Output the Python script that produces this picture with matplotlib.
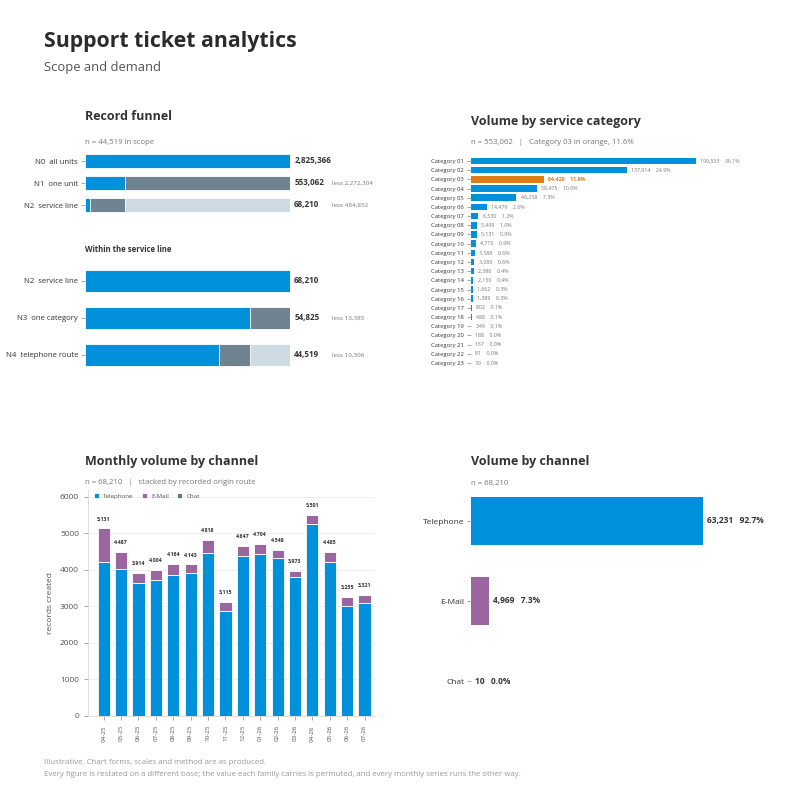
import matplotlib
matplotlib.use("Agg")
import matplotlib.pyplot as plt
import numpy as np

plt.rcParams['font.family'] = ['Open Sans', 'DejaVu Sans']

BLUE = '#0091da'
SLATE = '#6f8490'
LIGHT = '#cfdbe2'
ORANGE = '#e07b1a'
PURPLE = '#9b66a0'
GREEN = '#5d806a'
DARK = '#333333'
GREY = '#777777'

# --- data ---
funnel_top_labels = ['N0  all units', 'N1  one unit', 'N2  service line']
funnel_top_values = [2825366, 553062, 68210]
funnel_bot_labels = ['N2  service line', 'N3  one category', 'N4  telephone route']
funnel_bot_values = [68210, 54825, 44519]

categories = ['Category %02d' % i for i in range(1, 24)]
cat_values = [199553, 137914, 64420, 58475, 40258, 14479, 6530, 5499, 5131, 4715,
              3588, 3089, 2386, 2150, 1662, 1389, 802, 488, 349, 188, 167, 81, 39]
cat_pct = ['36.1%', '24.9%', '11.6%', '10.6%', '7.3%', '2.6%', '1.2%', '1.0%', '0.9%',
           '0.9%', '0.6%', '0.6%', '0.4%', '0.4%', '0.3%', '0.3%', '0.1%', '0.1%',
           '0.1%', '0.0%', '0.0%', '0.0%', '0.0%']
highlight = 'Category 03'

months = ['04-25', '05-25', '06-25', '07-25', '08-25', '09-25', '10-25', '11-25',
          '12-25', '01-26', '02-26', '03-26', '04-26', '05-26', '06-26', '07-26']
month_total = [5131, 4487, 3914, 4004, 4164, 4143, 4818, 3115, 4647, 4704, 4548,
               3973, 5501, 4485, 3255, 3321]
month_phone = [4215, 4025, 3640, 3712, 3868, 3912, 4460, 2880, 4388, 4432, 4322,
               3795, 5260, 4212, 3014, 3096]
month_chat = [1, 0, 1, 0, 1, 0, 1, 1, 0, 1, 0, 1, 0, 1, 1, 1]
month_mail = [t - p - c for t, p, c in zip(month_total, month_phone, month_chat)]

channels = ['Telephone', 'E-Mail', 'Chat']
channel_values = [63231, 4969, 10]
channel_pct = ['92.7%', '7.3%', '0.0%']
channel_colors = [BLUE, PURPLE, GREEN]

fig = plt.figure(figsize=(8, 8), dpi=100)


def px_axes(x0, y0, x1, y1):
    return fig.add_axes([x0 / 800, 1 - y1 / 800, (x1 - x0) / 800, (y1 - y0) / 800])


def clean(ax):
    for s in ax.spines.values():
        s.set_visible(False)
    ax.tick_params(axis='y', length=3, width=0.6, color='#999999', pad=2, labelcolor=DARK)
    ax.set_xticks([])


def txt(x, y, s, **kw):
    fig.text(x / 800, 1 - y / 800, s, **kw)


# header
txt(44, 42, 'Support ticket analytics', fontsize=15.3, fontweight='bold', color='#2b2b2b', va='center')
txt(44, 68, 'Scope and demand', fontsize=9.4, color='#555555', va='center')

# --- funnel ---
txt(85, 117, 'Record funnel', fontsize=9, fontweight='bold', color=DARK, va='center')
txt(85, 143, 'n = 44,519 in scope', fontsize=5.6, color=GREY, va='center')


def funnel(ax, labels, values, height):
    base = values[0]
    y = np.arange(len(values))
    for i, v in enumerate(values):
        prev = values[i - 1] if i > 0 else base
        ax.barh(i, base, height=height, color=LIGHT, edgecolor='white', linewidth=0.6)
        ax.barh(i, prev, height=height, color=SLATE, edgecolor='white', linewidth=0.6)
        ax.barh(i, v, height=height, color=BLUE, edgecolor='white', linewidth=0.6)
        ax.annotate(f'{v:,}', (base, i), xytext=(3, 0), textcoords='offset points',
                    va='center', fontsize=5.8, fontweight='bold', color=DARK)
        if i > 0:
            ax.annotate(f'less {prev - v:,}', (base, i), xytext=(30, 0),
                        textcoords='offset points', va='center', fontsize=4.5, color=GREY)
    ax.set_yticks(y, labels, fontsize=5.6)
    ax.set_xlim(0, base)
    ax.set_ylim(len(values) - 0.5, -0.5)
    clean(ax)


ax1 = px_axes(85, 150, 290, 216)
funnel(ax1, funnel_top_labels, funnel_top_values, 0.64)

txt(85, 250, 'Within the service line', fontsize=5.6, fontweight='bold', color=DARK, va='center')
ax2 = px_axes(85, 262.5, 290, 373.5)
funnel(ax2, funnel_bot_labels, funnel_bot_values, 0.6)

# --- category ---
txt(471, 122, 'Volume by service category', fontsize=9, fontweight='bold', color=DARK, va='center')
txt(471, 143, 'n = 553,062   |   Category 03 in orange, 11.6%', fontsize=5.6, color=GREY, va='center')
ax3 = px_axes(471, 156.4, 771, 367.6)
yc = np.arange(len(categories))
cols = [ORANGE if c == highlight else BLUE for c in categories]
ax3.barh(yc, cat_values, height=0.72, color=cols)
for i, (v, p, c) in enumerate(zip(cat_values, cat_pct, categories)):
    hl = c == highlight
    ax3.annotate(f'{v:,}    {p}', (v, i), xytext=(3, 0), textcoords='offset points',
                 va='center', fontsize=3.8, color=ORANGE if hl else GREY,
                 fontweight='bold' if hl else 'normal')
ax3.set_yticks(yc, categories, fontsize=4.2)
ax3.set_xlim(0, 199553 * 300 / 225)
ax3.set_ylim(len(categories) - 0.5, -0.5)
clean(ax3)

# --- monthly ---
txt(85, 461, 'Monthly volume by channel', fontsize=9, fontweight='bold', color=DARK, va='center')
txt(85, 483, 'n = 68,210   |   stacked by recorded origin route', fontsize=5.6, color=GREY, va='center')
ax4 = px_axes(88, 490, 375, 716)
xm = np.arange(len(months))
ax4.bar(xm, month_phone, width=0.7, color=BLUE, edgecolor='white', linewidth=0.6, label='Telephone', zorder=3)
ax4.bar(xm, month_mail, width=0.7, bottom=month_phone, color=PURPLE, edgecolor='white',
        linewidth=0.6, label='E-Mail', zorder=3)
ax4.bar(xm, month_chat, width=0.7, bottom=np.add(month_phone, month_mail), color=GREEN,
        edgecolor='white', linewidth=0.6, label='Chat', zorder=3)
for i, t in enumerate(month_total):
    ax4.annotate(f'{t:,}', (i, t), xytext=(0, 5), textcoords='offset points', ha='center',
                 va='bottom', fontsize=3.8, fontweight='bold', color=DARK)
ax4.set_xlim(-0.9, 15.6)
ax4.set_ylim(0, 6180)
ax4.set_yticks([0, 1000, 2000, 3000, 4000, 5000, 6000])
ax4.set_xticks(xm, months, rotation=90, fontsize=4.5)
ax4.tick_params(axis='both', length=3, width=0.6, color='#999999', labelcolor='#555555')
ax4.tick_params(axis='y', labelsize=6)
ax4.grid(axis='y', color='#eeeeee', linewidth=0.7, zorder=0)
for s in ['top', 'right']:
    ax4.spines[s].set_visible(False)
for s in ['left', 'bottom']:
    ax4.spines[s].set_color('#dddddd')
    ax4.spines[s].set_linewidth(0.7)
ax4.set_ylabel('records created', fontsize=6, color='#555555', labelpad=4)
ax4.legend(loc='upper left', bbox_to_anchor=(0.0, 1.01), ncol=3, frameon=False, fontsize=4.5,
           handlelength=0.8, handleheight=0.8, columnspacing=1.3, handletextpad=0.7,
           labelcolor='#555555')

# --- channel ---
txt(471, 461, 'Volume by channel', fontsize=9, fontweight='bold', color=DARK, va='center')
txt(471, 483, 'n = 68,210', fontsize=5.6, color=GREY, va='center')
ax5 = px_axes(471, 481, 790, 721)
yc2 = np.arange(len(channels))
ax5.barh(yc2, channel_values, height=0.6, color=channel_colors)
for i, (v, p) in enumerate(zip(channel_values, channel_pct)):
    ax5.annotate(f'{v:,}   {p}', (v, i), xytext=(3, 0), textcoords='offset points',
                 va='center', fontsize=6, fontweight='bold', color=DARK)
ax5.set_yticks(yc2, channels, fontsize=6)
ax5.set_xlim(0, 63231 * 319 / 232)
ax5.set_ylim(len(channels) - 0.5, -0.5)
clean(ax5)

# footer
txt(44, 762, 'Illustrative. Chart forms, scales and method are as produced.', fontsize=5.7,
    color='#999999', va='center')
txt(44, 774, 'Every figure is restated on a different base; the value each family carries is '
    'permuted, and every monthly series runs the other way.', fontsize=5.7, color='#999999', va='center')

fig.savefig('out.png', dpi=100)
